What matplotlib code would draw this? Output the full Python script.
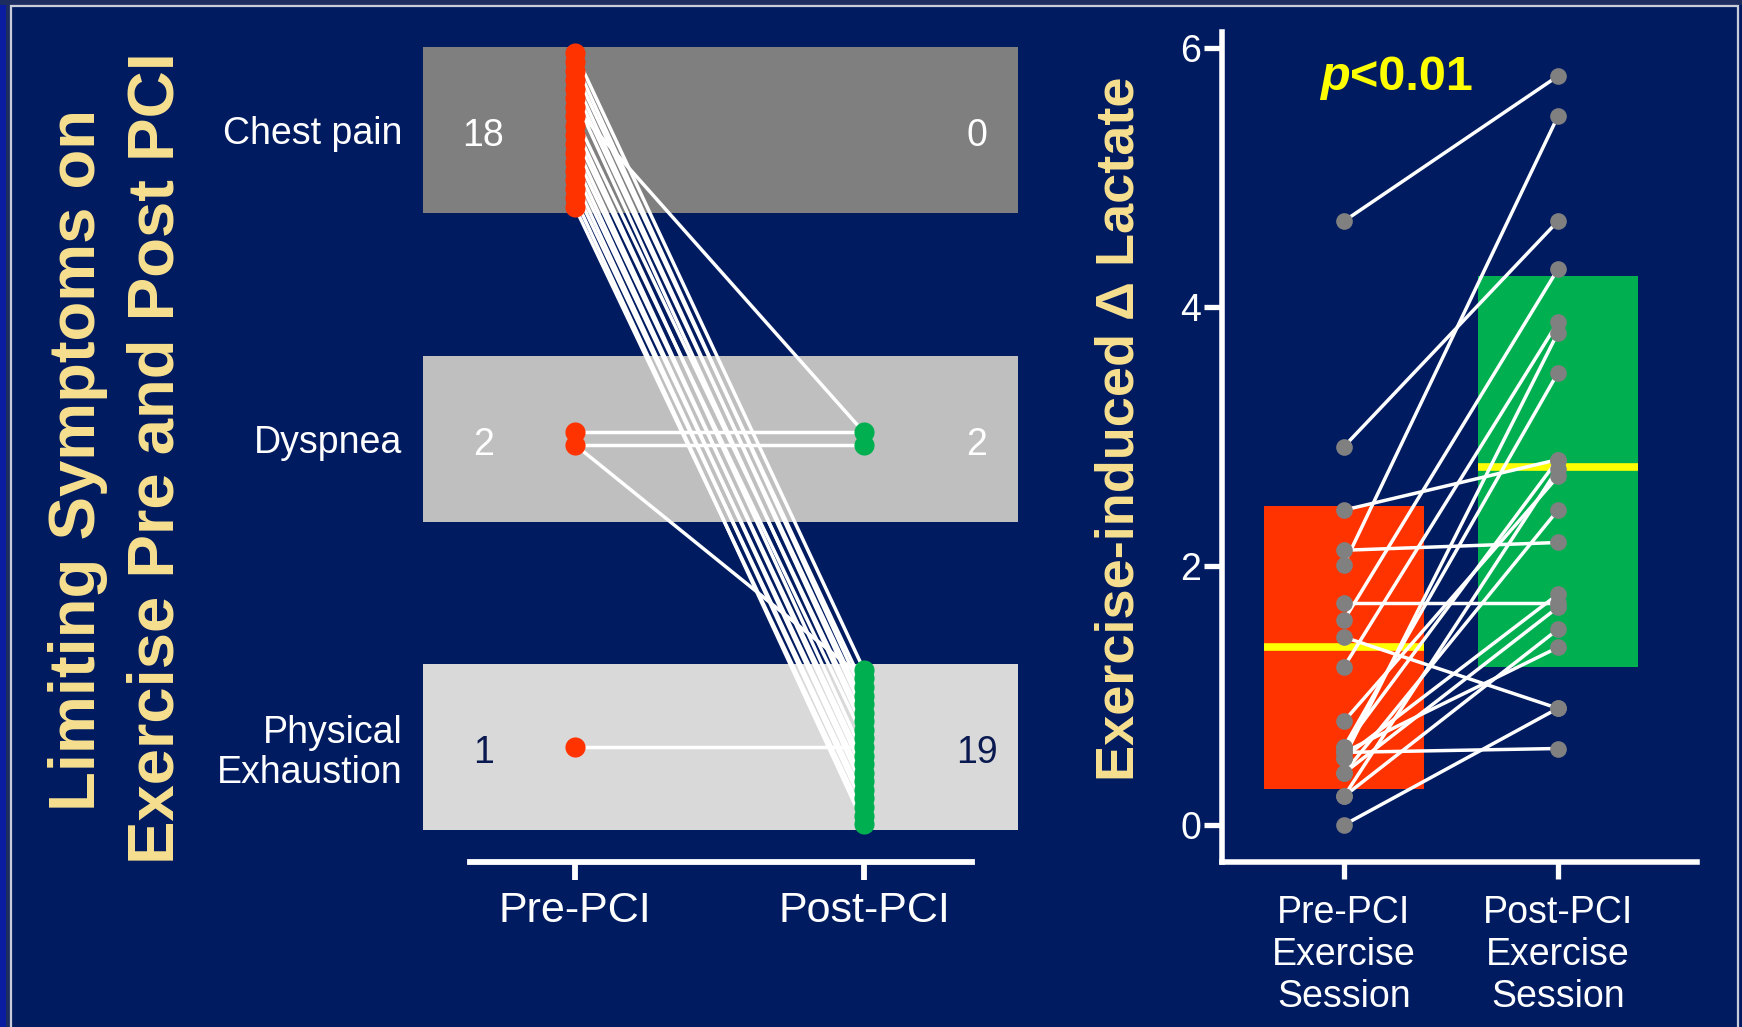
import numpy as np
import matplotlib.pyplot as plt
from matplotlib.patches import Rectangle

# left panel: limiting symptom of each patient before / after PCI
symptoms = ['Chest pain', 'Dyspnea', 'Physical\nExhaustion']
pre_counts = [18, 2, 1]
post_counts = [0, 2, 19]
# (symptom before, dot, symptom after, dot) - symptom index: 0 chest, 1 dyspnea, 2 exhaustion
chest_pre_dots = [0, 1, 2, 3, 4, 5, 7, 8, 9, 10, 11, 12, 13, 14, 15, 16, 17]
exh_post_dots = [0, 3, 2, 5, 4, 7, 6, 10, 8, 12, 11, 14, 13, 16, 15, 18, 17]
symptom_links = [(0, i, 2, j) for i, j in zip(chest_pre_dots, exh_post_dots)]
symptom_links += [(0, 6, 1, 0), (1, 0, 1, 0), (1, 1, 1, 1), (1, 1, 2, 1), (2, 0, 2, 9)]

# right panel: exercise-induced lactate rise, paired per patient
sessions = ['Pre-PCI\nExercise\nSession', 'Post-PCI\nExercise\nSession']
lactate_pre = [4.66, 2.92, 2.43, 2.12, 2.01, 1.71, 1.58, 1.45, 1.22, 0.80, 0.60,
               0.56, 0.52, 0.40, 0.22, 0.00, 0.52, 0.40, 0.22, 0.56, 0.60]
lactate_post = [5.78, 4.66, 2.82, 2.18, 5.47, 1.71, 4.29, 0.90, 3.88, 2.69, 3.49,
                0.59, 3.80, 2.43, 2.75, 0.90, 1.78, 1.68, 1.51, 1.37, 2.82]
box_low = [0.28, 1.22]
box_high = [2.46, 4.24]
box_mid = [1.37, 2.76]

NAVY = '#001B60'
CREAM = '#F7E08F'
RED = '#FF3300'
GREEN = '#00B050'
BAND_COLORS = ['#7F7F7F', '#BFBFBF', '#D9D9D9']

plt.rcParams['font.family'] = ['Liberation Sans', 'DejaVu Sans']

W, H = 1742, 1027
fig = plt.figure(figsize=(W / 100, H / 100), dpi=100, facecolor=NAVY)


def px_axes(x0, x1, y0, y1):
    return fig.add_axes([x0 / W, 1 - y1 / H, (x1 - x0) / W, (y1 - y0) / H])


# slide frame
fig.add_artist(Rectangle((0, 0), 6 / W, 1, transform=fig.transFigure, color='#0A1CA0', lw=0))
fig.add_artist(Rectangle((6 / W, 0), 5 / W, 1, transform=fig.transFigure, color='#1D2D60', lw=0))
fig.add_artist(Rectangle((0, 1 - 5 / H), 1, 5 / H, transform=fig.transFigure, color='#1D2D60', lw=0))
fig.add_artist(Rectangle((11 / W, -0.05), 1727 / W, 1.05 - 6 / H, transform=fig.transFigure,
                         fill=False, edgecolor='#C9CDD9', lw=1.6))

# titles
fig.text(95 / W, 1 - 460 / H, 'Limiting Symptoms on', rotation=90, rotation_mode='anchor',
         ha='center', va='baseline', fontsize=47, fontweight='bold', color=CREAM)
fig.text(173 / W, 1 - 458 / H, 'Exercise Pre and Post PCI', rotation=90, rotation_mode='anchor',
         ha='center', va='baseline', fontsize=47, fontweight='bold', color=CREAM)

# ---- left panel ----
ax1 = px_axes(423, 1018, 40, 880)
ax1.set_xlim(-0.526, 1.533)
ax1.set_ylim(-0.431, 2.292)
ax1.patch.set_visible(False)
for s in ['left', 'right', 'top']:
    ax1.spines[s].set_visible(False)
ax1.spines['bottom'].set_position(('data', -0.373))
ax1.spines['bottom'].set_bounds(-0.363, 1.374)
ax1.spines['bottom'].set_color('white')
ax1.spines['bottom'].set_linewidth(4.2)

band_y = [2, 1, 0]
ax1.barh(band_y, 2.059, left=-0.526, height=0.538, color=BAND_COLORS, zorder=1)


def dot_offsets(n):
    if n <= 1:
        return np.zeros(max(n, 0))
    if n == 2:
        return np.array([0.02, -0.02])
    return np.linspace(0.25, -0.25, n)


pre_y = [band_y[k] + dot_offsets(n) for k, n in enumerate(pre_counts)]
post_y = [band_y[k] + dot_offsets(n) for k, n in enumerate(post_counts)]

for a, i, b, j in symptom_links:
    ax1.plot([0, 1], [pre_y[a][i], post_y[b][j]], color='white', lw=2.5, zorder=2,
             solid_capstyle='round')
for k in range(3):
    ax1.plot(np.zeros(pre_counts[k]), pre_y[k], 'o', ms=14.5, color=RED, mec='none', zorder=3)
    ax1.plot(np.ones(post_counts[k]), post_y[k], 'o', ms=14.5, color=GREEN, mec='none', zorder=3)
    txt_color = 'white' if k < 2 else '#0A1A50'
    ax1.text(-0.318, band_y[k] - 0.02, str(pre_counts[k]), ha='center', va='center',
             fontsize=27, color=txt_color)
    ax1.text(1.39, band_y[k] - 0.02, str(post_counts[k]), ha='center', va='center',
             fontsize=27, color=txt_color)

ax1.set_yticks(band_y)
ax1.set_yticklabels(symptoms, fontsize=27, color='white', linespacing=1.15)
ax1.tick_params(axis='y', length=0, pad=15)
ax1.set_xticks([0, 1])
ax1.set_xticklabels(['Pre-PCI', 'Post-PCI'], fontsize=31, color='white')
ax1.tick_params(axis='x', length=13, width=4.2, color='white', pad=8)

# ---- right panel ----
ax2 = px_axes(1222, 1697, 32, 862)
ax2.set_xlim(-0.570, 1.650)
ax2.set_ylim(-0.286, 6.12)
ax2.patch.set_visible(False)
x = np.array([0, 1])
ax2.bar(x, np.array(box_high) - np.array(box_low), bottom=box_low, width=0.75,
        color=[RED, GREEN], zorder=1)
ax2.hlines(box_mid, x - 0.375, x + 0.375, color='#FFFF00', lw=5.5, zorder=2)
for a, b in zip(lactate_pre, lactate_post):
    ax2.plot([0, 1], [a, b], color='white', lw=2.5, zorder=3)
ax2.plot(np.zeros(len(lactate_pre)), lactate_pre, 'o', ms=12, color='#808080', mec='none', zorder=4)
ax2.plot(np.ones(len(lactate_post)), lactate_post, 'o', ms=12, color='#808080', mec='none', zorder=4)

ax2.text(0.028, 5.67, 'p', ha='right', va='baseline', fontsize=35, fontweight='bold',
         fontstyle='italic', color='#FFFF00')
ax2.text(0.028, 5.67, '<0.01', ha='left', va='baseline', fontsize=35, fontweight='bold',
         color='#FFFF00')

ax2.set_yticks([0, 2, 4, 6])
ax2.set_xticks(x)
ax2.set_xticklabels(sessions, fontsize=27, color='white', linespacing=1.2)
ax2.tick_params(axis='y', length=13, width=3.8, color='white', labelcolor='white',
                labelsize=27, pad=2)
ax2.tick_params(axis='x', length=12, width=3.8, color='white', pad=12)
for s in ['right', 'top']:
    ax2.spines[s].set_visible(False)
for s in ['left', 'bottom']:
    ax2.spines[s].set_color('white')
    ax2.spines[s].set_linewidth(4)
ax2.set_ylabel('Exercise-induced \u0394 Lactate', fontsize=39, fontweight='bold',
               color=CREAM, va='center')
ax2.yaxis.set_label_coords(-0.215, 0.522)

fig.savefig('out.png', dpi=100, facecolor=NAVY)
